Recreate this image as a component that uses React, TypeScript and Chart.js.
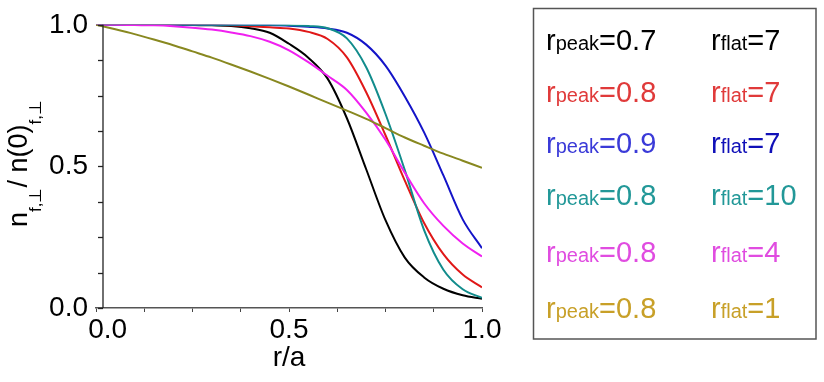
import React, { useEffect, useRef } from "react";
import { Chart, registerables } from "chart.js";

Chart.register(...registerables);

// r/a sample positions
const R = [0, 0.05, 0.1, 0.15, 0.2, 0.25, 0.3, 0.35, 0.4, 0.45, 0.5, 0.55, 0.6, 0.65, 0.7, 0.75, 0.8, 0.85, 0.9, 0.95, 1.0];

// normalised density profiles
const N_PEAK07_FLAT7 = [1, 1, 1, 1, 1, 0.999, 0.998, 0.996, 0.988, 0.972, 0.933, 0.884, 0.81, 0.67, 0.49, 0.31, 0.178, 0.108, 0.068, 0.045, 0.033];
const N_PEAK08_FLAT7 = [1, 1, 1, 1, 1, 1, 1, 0.998, 0.995, 0.991, 0.987, 0.975, 0.95, 0.885, 0.762, 0.61, 0.45, 0.3, 0.19, 0.118, 0.073];
const N_PEAK09_FLAT7 = [1, 1, 1, 1, 1, 1, 1, 1, 1, 0.999, 0.997, 0.993, 0.987, 0.972, 0.93, 0.856, 0.747, 0.62, 0.468, 0.313, 0.211];
const N_PEAK08_FLAT10 = [1, 1, 1, 1, 1, 1, 1, 1, 1, 1, 0.999, 0.996, 0.988, 0.952, 0.85, 0.685, 0.487, 0.275, 0.135, 0.066, 0.036];
const N_PEAK08_FLAT4 = [1, 1, 0.999, 0.998, 0.995, 0.99, 0.983, 0.973, 0.96, 0.94, 0.91, 0.868, 0.82, 0.77, 0.69, 0.594, 0.478, 0.37, 0.29, 0.228, 0.182];
const N_PEAK08_FLAT1 = [1, 0.984, 0.967, 0.948, 0.928, 0.906, 0.884, 0.86, 0.835, 0.809, 0.782, 0.754, 0.725, 0.697, 0.668, 0.635, 0.602, 0.573, 0.545, 0.52, 0.495];

const SERIES = [N_PEAK07_FLAT7, N_PEAK08_FLAT7, N_PEAK09_FLAT7, N_PEAK08_FLAT10, N_PEAK08_FLAT4, N_PEAK08_FLAT1];

// legend entries
const R_PEAK = ["0.7", "0.8", "0.9", "0.8", "0.8", "0.8"];
const R_FLAT = ["7", "7", "7", "10", "4", "1"];

const LINE_COLORS = ["#000000", "#e01818", "#1414c8", "#128c8c", "#f020f0", "#888820"];
const LEGEND_COLORS_PEAK = ["#000000", "#e03a3a", "#3a3ad8", "#229898", "#e04ce0", "#c8a028"];
const LEGEND_COLORS_FLAT = ["#000000", "#e03a3a", "#1010b8", "#229898", "#e04ce0", "#c8a028"];

// labelled tick values
const X_LABELED = [0, 0.5, 1];
const Y_LABELED = [0, 0.5, 1];

const FONT = "'Liberation Sans', Arial, Helvetica, sans-serif";

type Part = { text: string; size: number; dy?: number };

function drawRich(ctx: CanvasRenderingContext2D, x: number, y: number, parts: Part[]) {
  let cx = x;
  for (const p of parts) {
    ctx.font = `${p.size}px ${FONT}`;
    ctx.fillText(p.text, cx, y + (p.dy || 0));
    cx += ctx.measureText(p.text).width;
  }
  return cx - x;
}

const decorPlugin = {
  id: "decor",
  afterDraw(chart: any) {
    const ctx: CanvasRenderingContext2D = chart.ctx;
    const area = chart.chartArea;
    const ys = chart.scales.y;
    ctx.save();

    // y axis line (offset slightly to the right of r=0, as in the figure)
    const ax = area.left + 7;
    ctx.strokeStyle = "#222";
    ctx.lineWidth = 1.3;
    ctx.beginPath();
    ctx.moveTo(ax, ys.getPixelForValue(1));
    ctx.lineTo(ax, area.bottom);
    ctx.stroke();
    for (const t of ys.ticks) {
      const py = Math.round(ys.getPixelForValue(t.value)) + 0.5;
      ctx.beginPath();
      ctx.moveTo(ax - 5, py);
      ctx.lineTo(ax, py);
      ctx.stroke();
    }

    // y axis title with subscripts, rotated
    ctx.fillStyle = "#000";
    ctx.textBaseline = "alphabetic";
    ctx.textAlign = "left";
    ctx.save();
    ctx.translate(27, 227);
    ctx.rotate(-Math.PI / 2);
    drawRich(ctx, 0, 0, [
      { text: "n", size: 27 },
      { text: "f,\u22A5", size: 17, dy: 14 },
      { text: "/ n(0)", size: 27 },
      { text: "f,\u22A5", size: 17, dy: 14 },
    ]);
    ctx.restore();

    // legend box
    ctx.strokeStyle = "#555";
    ctx.lineWidth = 1.5;
    ctx.strokeRect(533.5, 8.5, 282.5, 330.5);
    const rows = [50, 101.7, 153.3, 205, 261.7, 318.3];
    for (let i = 0; i < R_PEAK.length; i++) {
      ctx.fillStyle = LEGEND_COLORS_PEAK[i];
      drawRich(ctx, 546, rows[i], [
        { text: "r", size: 29 },
        { text: "peak", size: 20 },
        { text: "=" + R_PEAK[i], size: 29 },
      ]);
      ctx.fillStyle = LEGEND_COLORS_FLAT[i];
      drawRich(ctx, 711, rows[i], [
        { text: "r", size: 29 },
        { text: "flat", size: 20 },
        { text: "=" + R_FLAT[i], size: 29 },
      ]);
    }
    ctx.restore();
  },
};

export default function App() {
  const ref = useRef<HTMLCanvasElement | null>(null);

  useEffect(() => {
    if (!ref.current) return;
    const datasets = SERIES.map((s, i) => ({
      label: `rpeak=${R_PEAK[i]} rflat=${R_FLAT[i]}`,
      data: R.map((r, j) => ({ x: r, y: s[j] })),
      borderColor: LINE_COLORS[i],
      backgroundColor: LINE_COLORS[i],
      borderWidth: 2,
      pointRadius: 0,
      fill: false,
      cubicInterpolationMode: "monotone" as const,
      order: SERIES.length - 1 - i,
    }));

    const chart = new Chart(ref.current, {
      type: "line",
      data: { datasets },
      options: {
        responsive: false,
        animation: false,
        events: [],
        layout: { padding: { left: 0, top: 21, right: 342, bottom: 0 } },
        plugins: { legend: { display: false }, tooltip: { enabled: false } },
        scales: {
          x: {
            type: "linear",
            min: 0,
            max: 1,
            afterFit: (s: any) => {
              s.height = 74;
            },
            border: { display: true, color: "#555", width: 1.5 },
            grid: { display: true, drawOnChartArea: false, drawTicks: true, tickLength: 4, color: "#444", lineWidth: 1 },
            ticks: {
              stepSize: 0.125,
              autoSkip: false,
              maxRotation: 0,
              padding: 1,
              color: "#000",
              font: { family: FONT, size: 28 },
              callback: (v: any) => {
                const val = Number(v);
                const hit = X_LABELED.find((t) => Math.abs(t - val) < 1e-9);
                if (hit === undefined) return "";
                return hit === 0 ? "   " + hit.toFixed(1) : hit.toFixed(1);
              },
            },
            title: {
              display: true,
              text: "r/a",
              color: "#000",
              font: { family: FONT, size: 28 },
              padding: { top: 0, bottom: 7 },
            },
          },
          y: {
            type: "linear",
            min: 0,
            max: 1,
            afterFit: (s: any) => {
              s.width = 96;
            },
            border: { display: false },
            grid: { display: false, drawTicks: false },
            ticks: {
              stepSize: 0.125,
              autoSkip: false,
              padding: 8,
              color: "#000",
              font: { family: FONT, size: 28 },
              callback: (v: any) => {
                const val = Number(v);
                const hit = Y_LABELED.find((t) => Math.abs(t - val) < 1e-9);
                return hit === undefined ? "" : hit.toFixed(1);
              },
            },
          },
        },
      },
      plugins: [decorPlugin],
    });
    return () => chart.destroy();
  }, []);

  return (
    <div style={{ position: "absolute", left: 0, top: 0, width: 824, height: 382, background: "#fff" }}>
      <canvas ref={ref} width={824} height={382} style={{ display: "block", width: 824, height: 382 }} />
    </div>
  );
}
